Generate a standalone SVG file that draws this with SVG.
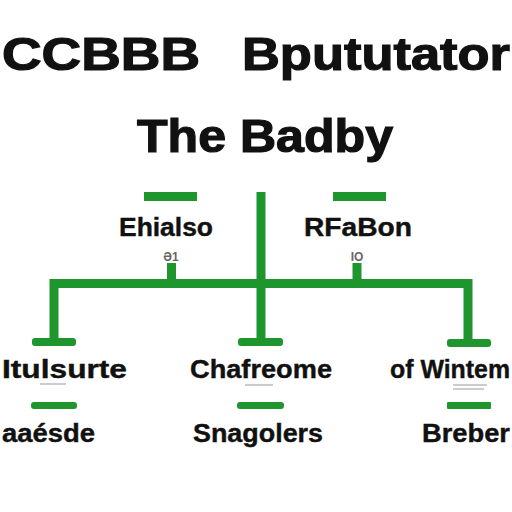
<svg xmlns="http://www.w3.org/2000/svg" width="512" height="512" viewBox="0 0 512 512">
<style>
.t{font-family:"Liberation Sans","DejaVu Sans",Arial,sans-serif;font-weight:bold;fill:#111}
.h{font-size:46px;stroke:#111;stroke-width:1.2}
.l{font-size:25px;stroke:#111;stroke-width:0.4}
.s{font-size:12px;fill:#666}
.g{fill:#1e962d}
.c{stroke:#1e962d;stroke-width:9;fill:none}
.u{stroke:#999;stroke-width:1}
</style>
<rect width="512" height="512" fill="#fff"/>
<g id="title">
<text class="t h" x="2" y="70" textLength="198" lengthAdjust="spacingAndGlyphs">CCBBB</text>
<text class="t h" x="242" y="70" textLength="268" lengthAdjust="spacingAndGlyphs">Bpututator</text>
</g>
<g id="subtitle">
<text class="t h" x="137" y="152" textLength="256" lengthAdjust="spacingAndGlyphs">The Badby</text>
</g>
<g id="connectors">
<line class="c" x1="261" y1="192" x2="261" y2="340"/>
<polyline class="c" points="54,341 54,283.5 468,283.5 468,341"/>
<line class="c" x1="171.5" y1="263" x2="171.5" y2="283"/>
<line class="c" x1="357" y1="263" x2="357" y2="283"/>
</g>
<g id="node-top-left">
<rect class="g" x="144" y="192" width="53" height="9"/>
<text class="t l" x="166" y="236" text-anchor="middle" textLength="94" lengthAdjust="spacingAndGlyphs">Ehialso</text>
<text class="t s" x="171" y="261" text-anchor="middle">Ə1</text>
</g>
<g id="node-top-right">
<rect class="g" x="333" y="192" width="53" height="9"/>
<text class="t l" x="358" y="236" text-anchor="middle" textLength="108" lengthAdjust="spacingAndGlyphs">RFaBon</text>
<text class="t s" x="357" y="261" text-anchor="middle">IO</text>
</g>
<g id="node-bottom-left">
<rect class="g" x="32" y="338" width="44" height="8" rx="3"/>
<text class="t l" x="2" y="378" textLength="125" lengthAdjust="spacingAndGlyphs">Itulsurte</text>
<line class="u" x1="40" y1="384" x2="66" y2="384"/>
<rect class="g" x="31" y="402" width="46" height="7" rx="3"/>
<text class="t l" x="2" y="442" textLength="93" lengthAdjust="spacingAndGlyphs">aaésde</text>
</g>
<g id="node-bottom-center">
<rect class="g" x="238" y="338" width="45" height="8" rx="3"/>
<text class="t l" x="190" y="378" textLength="142" lengthAdjust="spacingAndGlyphs">Chafreome</text>
<line class="u" x1="245" y1="385" x2="273" y2="385"/>
<rect class="g" x="237" y="402" width="47" height="7" rx="3"/>
<text class="t l" x="193" y="442" textLength="130" lengthAdjust="spacingAndGlyphs">Snagolers</text>
</g>
<g id="node-bottom-right">
<rect class="g" x="447" y="339" width="44" height="8" rx="3"/>
<text class="t l" x="390" y="378" textLength="120" lengthAdjust="spacingAndGlyphs">of Wintem</text>
<line class="u" x1="453" y1="385" x2="487" y2="385"/>
<line class="u" x1="453" y1="389" x2="484" y2="389"/>
<rect class="g" x="447" y="402" width="44" height="7" rx="1"/>
<text class="t l" x="422" y="442" textLength="88" lengthAdjust="spacingAndGlyphs">Breber</text>
</g>
</svg>
